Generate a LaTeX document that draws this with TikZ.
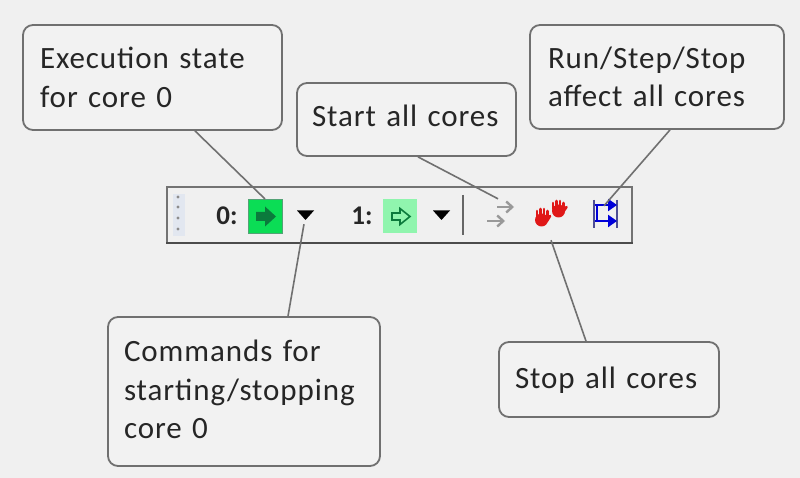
\documentclass[tikz,border=0pt]{standalone}
\usepackage{fontspec}
\setmainfont{Carlito}
\newfontfamily\calloutfont[LetterSpace=3, WordSpace=0.5]{Carlito}
\usetikzlibrary{arrows.meta}

\tikzset{
    callout/.style={draw=calloutline, fill=calloutfill, line width=1.8pt, rounded corners=10pt,
        inner xsep=0pt, inner ysep=0pt, align=left, text=black!85,
        font=\fontsize{31}{38.5}\calloutfont},
    pointer/.style={draw=pointerline, line width=1.6pt},
    corelabel/.style={inner sep=0pt, text=black!85, font=\fontsize{27}{30}\selectfont\bfseries},
    iconbox/.style={inner sep=0pt, minimum width=34pt, minimum height=34pt},
    graytip/.style={draw=black!40, line width=2.4pt, -{Straight Barb[length=6pt, width=11pt]}},
    bluetip/.style={draw=blue!85!black, line width=2.6pt, -{Triangle[length=9pt, width=12pt]}},
}
\definecolor{pagefill}{HTML}{F0F0F0}
\definecolor{calloutfill}{HTML}{F2F2F2}
\definecolor{calloutline}{HTML}{707070}
\definecolor{pointerline}{HTML}{707070}
\definecolor{runfill}{HTML}{0BDD55}
\definecolor{idlefill}{HTML}{90F5AE}
\definecolor{arrowgreen}{HTML}{0B7A3C}
\definecolor{handred}{HTML}{E01818}
\definecolor{gripfill}{HTML}{E2E7F0}

\begin{document}
\begin{tikzpicture}[x=1pt, y=-1pt]
    \useasboundingbox[fill=pagefill] (0, 0) rectangle (800, 478);

    % toolbar
    \fill[gripfill] (173, 194) rectangle (185, 236);
    \draw[black!55, line width=1.3pt] (167, 243) -- (167, 187) -- (632, 187) -- (632, 243);
    \draw[black!70, line width=2.6pt] (166, 243) -- (633, 243);
    \draw[black!60, line width=1.8pt] (463, 195) -- (463, 235);
    \foreach \y in {197, 207, 218, 229} {
        \fill[black!45] (178, \y) circle (1.6pt);
    }

    \node[corelabel] (label0) at (227, 216) {0:};
    \node[corelabel] (label1) at (362, 216) {1:};

    \node[iconbox, fill=runfill, draw=arrowgreen!70, line width=1pt] (state0) at (265, 216.5) {};
    \fill[arrowgreen] (256, 212) -- (265, 212) -- (265, 206.5) -- (276, 216.5) -- (265, 226.5)
        -- (265, 221) -- (256, 221) -- cycle;
    \node[iconbox, fill=idlefill] (state1) at (400, 216.5) {};
    \draw[arrowgreen, line width=1.6pt, fill=idlefill] (392, 213) -- (400, 213) -- (400, 208.5)
        -- (410, 216.5) -- (400, 224.5) -- (400, 220) -- (392, 220) -- cycle;

    \node[inner sep=0pt, minimum size=0pt] (menu0) at (304, 224) {};
    \fill[black] (297, 210.5) -- (314, 210.5) -- (305.5, 220) -- cycle;
    \fill[black] (433, 210.5) -- (450, 210.5) -- (441.5, 220) -- cycle;

    \node[inner sep=0pt, minimum width=32pt, minimum height=28pt] (startall) at (498, 213) {};
    \draw[graytip] (497, 207) -- (514, 207);
    \draw[graytip] (487, 221) -- (505, 221);

    \node[inner sep=0pt, minimum width=34pt, minimum height=36pt] (stopall) at (551, 216) {};
    \begin{scope}[handred, line width=2.6pt, line cap=round]
        % lower hand
        \fill (541.5, 220) circle (6.5pt);
        \fill (536, 216) rectangle (548, 222);
        \foreach \x/\t in {537/211, 540.5/209, 544/209, 547.5/211} {
            \draw (\x, 218) -- (\x, \t);
        }
        \draw (550, 216) -- (547, 221);
        % upper hand
        \fill (558.5, 211) circle (6.5pt);
        \fill (553, 207) rectangle (564, 213);
        \foreach \x/\t in {553/203, 556.5/201, 560/201, 563.5/203} {
            \draw (\x, 209) -- (\x, \t);
        }
        \draw (566.5, 207) -- (563, 212);
    \end{scope}

    \node[inner sep=0pt, minimum width=28pt, minimum height=30pt] (stepall) at (604, 213) {};
    \draw[blue!40!black!70, line width=1.4pt] (594, 200) -- (594, 228) (617, 200) -- (617, 228);
    \draw[bluetip] (595, 205) -- (617, 205);
    \draw[bluetip] (595, 221) -- (617, 221);
    \draw[blue!85!black, line width=1.6pt] (597, 205) -- (597, 221);

    % callouts
    \node[callout, minimum width=259pt, minimum height=105pt, text width=225pt] (execstate) at (152.5, 77.5)
        {Execution state\\for core 0};
    \node[callout, minimum width=219pt, minimum height=73pt, text width=189pt, text depth=7.4pt] (startcores) at (406.5, 119.5)
        {Start all cores};
    \node[callout, minimum width=254pt, minimum height=104pt, text width=218pt] (runcores) at (657, 77)
        {Run/Step/Stop\\affect all cores};
    \node[callout, minimum width=272pt, minimum height=149pt, text width=240pt] (commands) at (244, 391.5)
        {Commands for\\starting/stopping\\core 0\\[-34.5pt]\mbox{}};
    \node[callout, minimum width=220pt, minimum height=75pt, text width=188pt, text depth=3pt] (stopcores) at (609, 379.5)
        {Stop all cores};

    \draw[pointer] ([xshift=42.5pt]execstate.south) -- (state0.north);
    \draw[pointer] ([xshift=11.5pt]startcores.south) -- (startall.north);
    \draw[pointer] ([xshift=13pt]runcores.south) -- ([yshift=-8pt]stepall.north);
    \draw[pointer] ([xshift=44pt]commands.north) -- (menu0);
    \draw[pointer] ([xshift=-23pt]stopcores.north) -- ([yshift=-6pt]stopall.south);
\end{tikzpicture}
\end{document}
